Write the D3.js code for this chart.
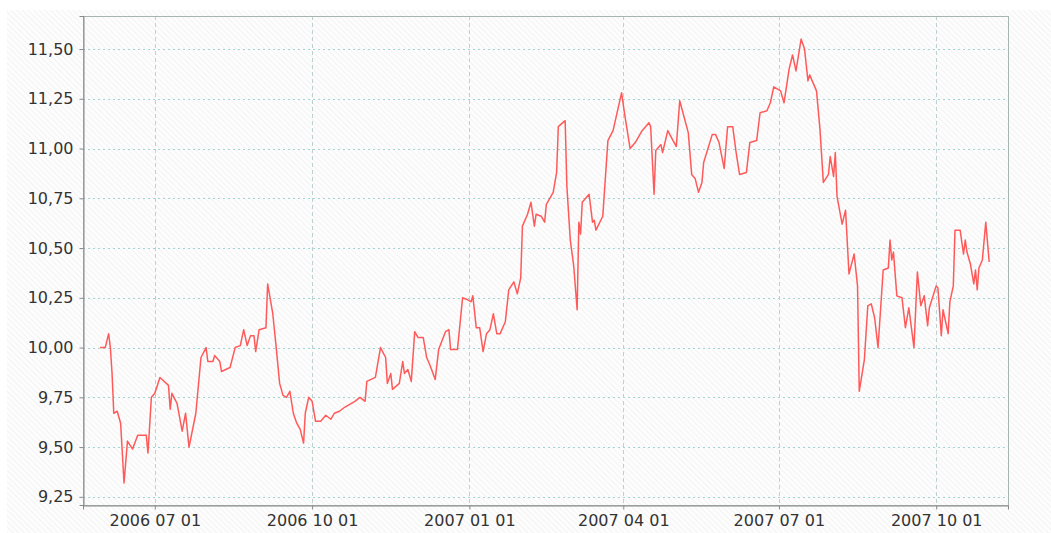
<!DOCTYPE html>
<html>
<head>
<meta charset="utf-8">
<script src="https://cdn.jsdelivr.net/npm/d3@7"></script>
<style>
  body { margin: 0; background: #fff; }
  svg text { font-family: "DejaVu Sans", sans-serif; fill: #333; }
</style>
</head>
<body>
<div id="chart"></div>
<script>
// exchange rate
var series = [
  ["2006-05-30", 10.00], ["2006-06-02", 10.00], ["2006-06-04", 10.07], ["2006-06-05", 10.00],
  ["2006-06-06", 9.87], ["2006-06-07", 9.67], ["2006-06-09", 9.68], ["2006-06-11", 9.62],
  ["2006-06-13", 9.32], ["2006-06-15", 9.53], ["2006-06-18", 9.49], ["2006-06-21", 9.56],
  ["2006-06-26", 9.56], ["2006-06-27", 9.47], ["2006-06-29", 9.75], ["2006-07-01", 9.77],
  ["2006-07-04", 9.85], ["2006-07-09", 9.81], ["2006-07-10", 9.69], ["2006-07-11", 9.77],
  ["2006-07-14", 9.72], ["2006-07-17", 9.58], ["2006-07-19", 9.67], ["2006-07-21", 9.50],
  ["2006-07-25", 9.67], ["2006-07-28", 9.95], ["2006-07-31", 10.00], ["2006-08-01", 9.93],
  ["2006-08-04", 9.93], ["2006-08-05", 9.96], ["2006-08-08", 9.93], ["2006-08-09", 9.88],
  ["2006-08-14", 9.90], ["2006-08-17", 10.00], ["2006-08-20", 10.01], ["2006-08-22", 10.09],
  ["2006-08-24", 10.01], ["2006-08-26", 10.06], ["2006-08-28", 10.06], ["2006-08-29", 9.98],
  ["2006-08-31", 10.09], ["2006-09-04", 10.10], ["2006-09-05", 10.32], ["2006-09-08", 10.17],
  ["2006-09-10", 10.00], ["2006-09-12", 9.82], ["2006-09-14", 9.76], ["2006-09-16", 9.75],
  ["2006-09-18", 9.78], ["2006-09-20", 9.67], ["2006-09-22", 9.62], ["2006-09-24", 9.59],
  ["2006-09-26", 9.52], ["2006-09-27", 9.67], ["2006-09-29", 9.75], ["2006-10-01", 9.73],
  ["2006-10-03", 9.63], ["2006-10-06", 9.63], ["2006-10-09", 9.66], ["2006-10-12", 9.64],
  ["2006-10-14", 9.67], ["2006-10-17", 9.68], ["2006-10-20", 9.70], ["2006-10-24", 9.72],
  ["2006-10-26", 9.73], ["2006-10-29", 9.75], ["2006-11-01", 9.73], ["2006-11-02", 9.83],
  ["2006-11-07", 9.85], ["2006-11-10", 10.00], ["2006-11-13", 9.95], ["2006-11-14", 9.82],
  ["2006-11-16", 9.87], ["2006-11-17", 9.79], ["2006-11-21", 9.82], ["2006-11-23", 9.93],
  ["2006-11-24", 9.87], ["2006-11-26", 9.89], ["2006-11-28", 9.83], ["2006-11-30", 10.08],
  ["2006-12-02", 10.05], ["2006-12-05", 10.05], ["2006-12-07", 9.95], ["2006-12-09", 9.91],
  ["2006-12-12", 9.84], ["2006-12-14", 9.99], ["2006-12-18", 10.08], ["2006-12-20", 10.09],
  ["2006-12-21", 9.99], ["2006-12-25", 9.99], ["2006-12-28", 10.25], ["2006-12-31", 10.24],
  ["2007-01-02", 10.23], ["2007-01-03", 10.26], ["2007-01-05", 10.10], ["2007-01-07", 10.10],
  ["2007-01-09", 9.98], ["2007-01-11", 10.07], ["2007-01-13", 10.09], ["2007-01-15", 10.17],
  ["2007-01-17", 10.07], ["2007-01-19", 10.07], ["2007-01-22", 10.13], ["2007-01-24", 10.29],
  ["2007-01-27", 10.33], ["2007-01-29", 10.27], ["2007-01-31", 10.35], ["2007-02-01", 10.61],
  ["2007-02-04", 10.67], ["2007-02-06", 10.73], ["2007-02-08", 10.61], ["2007-02-09", 10.67],
  ["2007-02-12", 10.66], ["2007-02-14", 10.63], ["2007-02-15", 10.72], ["2007-02-19", 10.78],
  ["2007-02-21", 10.88], ["2007-02-22", 11.11], ["2007-02-26", 11.14], ["2007-02-27", 10.81],
  ["2007-03-01", 10.54], ["2007-03-03", 10.41], ["2007-03-05", 10.19], ["2007-03-06", 10.63],
  ["2007-03-07", 10.57], ["2007-03-08", 10.73], ["2007-03-12", 10.77], ["2007-03-14", 10.63],
  ["2007-03-15", 10.64], ["2007-03-16", 10.59], ["2007-03-20", 10.66], ["2007-03-23", 11.04],
  ["2007-03-26", 11.09], ["2007-03-31", 11.28], ["2007-04-02", 11.16], ["2007-04-05", 11.00],
  ["2007-04-08", 11.03], ["2007-04-12", 11.09], ["2007-04-16", 11.13], ["2007-04-17", 11.11],
  ["2007-04-19", 10.77], ["2007-04-20", 10.99], ["2007-04-23", 11.02], ["2007-04-24", 10.98],
  ["2007-04-27", 11.09], ["2007-05-02", 11.01], ["2007-05-04", 11.24], ["2007-05-09", 11.08],
  ["2007-05-11", 10.87], ["2007-05-13", 10.85], ["2007-05-15", 10.78], ["2007-05-17", 10.83],
  ["2007-05-18", 10.93], ["2007-05-23", 11.07], ["2007-05-25", 11.07], ["2007-05-27", 11.03],
  ["2007-05-30", 10.90], ["2007-06-01", 11.11], ["2007-06-04", 11.11], ["2007-06-06", 10.98],
  ["2007-06-08", 10.87], ["2007-06-12", 10.88], ["2007-06-14", 11.03], ["2007-06-18", 11.04],
  ["2007-06-20", 11.18], ["2007-06-24", 11.19], ["2007-06-26", 11.23], ["2007-06-28", 11.31],
  ["2007-07-02", 11.29], ["2007-07-04", 11.23], ["2007-07-07", 11.40], ["2007-07-09", 11.47],
  ["2007-07-11", 11.39], ["2007-07-14", 11.55], ["2007-07-16", 11.50], ["2007-07-18", 11.34],
  ["2007-07-19", 11.37], ["2007-07-23", 11.29], ["2007-07-25", 11.10], ["2007-07-27", 10.83],
  ["2007-07-30", 10.87], ["2007-07-31", 10.96], ["2007-08-02", 10.86], ["2007-08-03", 10.98],
  ["2007-08-04", 10.76], ["2007-08-07", 10.62], ["2007-08-09", 10.69], ["2007-08-11", 10.37],
  ["2007-08-14", 10.47], ["2007-08-16", 10.31], ["2007-08-17", 9.78], ["2007-08-20", 9.94],
  ["2007-08-22", 10.21], ["2007-08-24", 10.22], ["2007-08-26", 10.15], ["2007-08-28", 10.00],
  ["2007-08-31", 10.39], ["2007-09-03", 10.40], ["2007-09-04", 10.54], ["2007-09-05", 10.44],
  ["2007-09-06", 10.48], ["2007-09-08", 10.26], ["2007-09-11", 10.25], ["2007-09-13", 10.10],
  ["2007-09-15", 10.20], ["2007-09-18", 10.00], ["2007-09-20", 10.38], ["2007-09-22", 10.21],
  ["2007-09-24", 10.26], ["2007-09-26", 10.11], ["2007-09-27", 10.20], ["2007-10-01", 10.31],
  ["2007-10-02", 10.30], ["2007-10-04", 10.06], ["2007-10-05", 10.19], ["2007-10-08", 10.07],
  ["2007-10-09", 10.23], ["2007-10-11", 10.31], ["2007-10-12", 10.59], ["2007-10-15", 10.59],
  ["2007-10-17", 10.47], ["2007-10-18", 10.54], ["2007-10-19", 10.48], ["2007-10-21", 10.42],
  ["2007-10-23", 10.32], ["2007-10-24", 10.39], ["2007-10-25", 10.29], ["2007-10-26", 10.40],
  ["2007-10-28", 10.44], ["2007-10-30", 10.63], ["2007-11-01", 10.43]
];
var yTicks = [9.25, 9.5, 9.75, 10, 10.25, 10.5, 10.75, 11, 11.25, 11.5];
var xTicks = ["2006-07-01", "2006-10-01", "2007-01-01", "2007-04-01", "2007-07-01", "2007-10-01"];

var svgWidth = 1051;
var svgHeight = 533;
var margin = {top: 16, right: 43, bottom: 28, left: 83};
var width = svgWidth - margin.left - margin.right;
var height = svgHeight - margin.top - margin.bottom;

var parse = d3.timeParse("%Y-%m-%d");
var data = series.map(function(d) { return {date: parse(d[0]), value: d[1]}; });

var svg = d3.select("#chart").append("svg")
    .attr("width", svgWidth)
    .attr("height", svgHeight);

// faint diagonal hatch background
var pat = svg.append("defs").append("pattern")
    .attr("id", "hatch")
    .attr("width", 4).attr("height", 4)
    .attr("patternUnits", "userSpaceOnUse")
    .attr("patternTransform", "rotate(-45)");
pat.append("rect").attr("width", 4).attr("height", 4).attr("fill", "#fdfdfd");
pat.append("line").attr("x1", 0).attr("y1", 0).attr("x2", 0).attr("y2", 4)
    .attr("stroke", "#f0f0f0").attr("stroke-width", 1.5);

svg.append("rect").attr("x", 7).attr("y", 10)
    .attr("width", svgWidth - 7).attr("height", svgHeight - 10)
    .attr("fill", "url(#hatch)");

var chartGroup = svg.append("g")
    .attr("transform", `translate(${margin.left},${margin.top})`);

var xScale = d3.scaleTime()
    .domain([parse("2006-05-20"), parse("2007-11-12")])
    .range([0, width]);
var yScale = d3.scaleLinear()
    .domain([9.209, 11.666])
    .range([height, 0]);

// gridlines
chartGroup.append("g").selectAll("line")
    .data(yTicks).enter().append("line")
    .attr("x1", 0).attr("x2", width)
    .attr("y1", d => Math.round(yScale(d)) + 0.5)
    .attr("y2", d => Math.round(yScale(d)) + 0.5)
    .attr("stroke", "#a3d3d3").attr("stroke-dasharray", "2,3");
chartGroup.append("g").selectAll("line")
    .data(xTicks).enter().append("line")
    .attr("y1", 0).attr("y2", height)
    .attr("x1", d => Math.round(xScale(parse(d))) + 0.5)
    .attr("x2", d => Math.round(xScale(parse(d))) + 0.5)
    .attr("stroke", "#bcd2d2").attr("stroke-dasharray", "4,3");

// frame
chartGroup.append("rect")
    .attr("x", 0.5).attr("y", 0.5)
    .attr("width", width).attr("height", height)
    .attr("fill", "none").attr("stroke", "#a8b4b0");

// axes
var fmt = d3.format(".2f");
var leftAxis = d3.axisLeft(yScale)
    .tickValues(yTicks)
    .tickSize(4).tickPadding(6)
    .tickFormat(d => fmt(d).replace(".", ","));
var bottomAxis = d3.axisBottom(xScale)
    .tickValues(xTicks.map(parse))
    .tickSize(4).tickPadding(5)
    .tickFormat(d3.timeFormat("%Y %m %d"));

var yAxisG = chartGroup.append("g").attr("transform", "translate(0.5,0)").call(leftAxis);
var xAxisG = chartGroup.append("g").attr("transform", `translate(0,${height + 0.5})`).call(bottomAxis);

[yAxisG, xAxisG].forEach(function(g) {
    g.select(".domain").attr("stroke", "#888");
    g.selectAll(".tick line").attr("stroke", "#888");
    g.selectAll(".tick text")
        .attr("fill", "#222")
        .style("font-size", "16px")
        .style("font-family", "'DejaVu Sans', sans-serif");
});

// the series line
var line = d3.line()
    .x(d => xScale(d.date))
    .y(d => yScale(d.value));

chartGroup.append("path")
    .datum(data)
    .attr("fill", "none")
    .attr("stroke", "#ff5a5a")
    .attr("stroke-width", 1.5)
    .attr("stroke-linejoin", "round")
    .attr("d", line);
</script>
</body>
</html>
